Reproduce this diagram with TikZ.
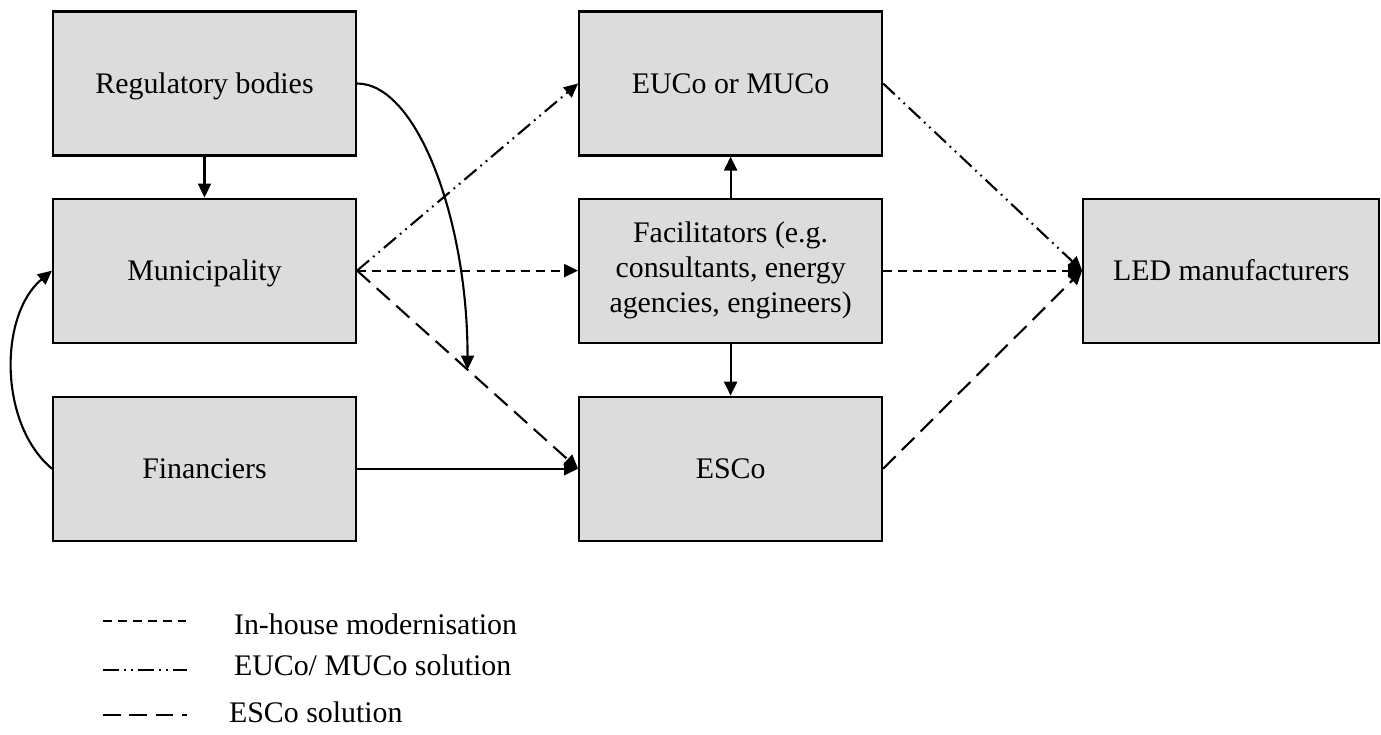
\documentclass[tikz,border=0pt]{standalone}
\usepackage{fontspec}
\setmainfont{Liberation Serif}
\usepackage{tikz}
\usetikzlibrary{arrows.meta,positioning}
\definecolor{boxgray}{RGB}{220,220,220}

\begin{document}
\begin{tikzpicture}[->,>={Triangle[length=2.8mm,width=2.6mm]},line width=1.2pt,
                    node distance=0.82cm and 4.42cm]
  \tikzstyle{actor}=[draw,fill=boxgray,minimum width=6.06cm,minimum height=2.88cm,
                     inner sep=2pt,align=center,font=\fontsize{17}{20}\selectfont]
  \tikzstyle{inhouse}=[dash pattern=on 5pt off 3.5pt]
  \tikzstyle{eucosol}=[dash pattern=on 9pt off 3pt on 1pt off 3pt on 1pt off 3pt]
  \tikzstyle{escosol}=[dash pattern=on 10pt off 5pt]
  \tikzstyle{legend}=[inner sep=0pt,anchor=west,font=\fontsize{17}{20}\selectfont]

  \useasboundingbox (0,0) rectangle (27.62,-14.7);

  \node[actor,text depth=0pt] (reg)  at (4.09,-1.67) {Regulatory bodies};
  \node[actor,text depth=0pt] (mun)  [below=of reg]  {Municipality};
  \node[actor] (fin)  [below=1.04cm of mun]   {Financiers};
  \node[actor] (fac)  [right=of mun]          {Facilitators (e.g.\\ consultants, energy\\ agencies, engineers)};
  \node[actor] (euco) [above=of fac]          {EUCo or MUCo};
  \node[actor] (esco) [below=1.04cm of fac]   {ESCo};
  \node[actor,minimum width=5.92cm] (led) [right=3.98cm of fac] {LED manufacturers};

  \path (mun.east) -- (esco.west) coordinate[pos=0.5] (meet);

  \path (reg)       edge            (mun)
        (fac)       edge            (euco)
        (fac)       edge            (esco)
        (fin)       edge            (esco)
        (mun.east)  edge[inhouse]   (fac.west)
        (mun.east)  edge[eucosol]   (euco.west)
        (mun.east)  edge[escosol]   (esco.west)
        (euco.east) edge[eucosol]   (led.west)
        (fac.east)  edge[inhouse]   (led.west)
        (esco.east) edge[escosol]   (led.west);

  \draw (reg.east) .. controls +(1.2,0) and +(0,3) .. (meet);
  \draw (fin.west) to[out=140,in=220,looseness=0.9] (mun.west);

  % legend
  \coordinate (k1a) at (2.06,-12.42); \coordinate (k1b) at (3.74,-12.42);
  \coordinate (k2a) at (2.06,-13.40); \coordinate (k2b) at (3.74,-13.40);
  \coordinate (k3a) at (2.06,-14.30); \coordinate (k3b) at (3.74,-14.30);
  \draw[-,inhouse] (k1a) -- (k1b);
  \draw[-,eucosol] (k2a) -- (k2b);
  \draw[-,escosol] (k3a) -- (k3b);
  \node[legend] (t1) at (4.66,-12.48) {In-house modernisation};
  \node[legend] (t2) at (4.66,-13.30) {EUCo/ MUCo solution};
  \node[legend] (t3) at (4.56,-14.24) {ESCo solution};
\end{tikzpicture}
\end{document}
